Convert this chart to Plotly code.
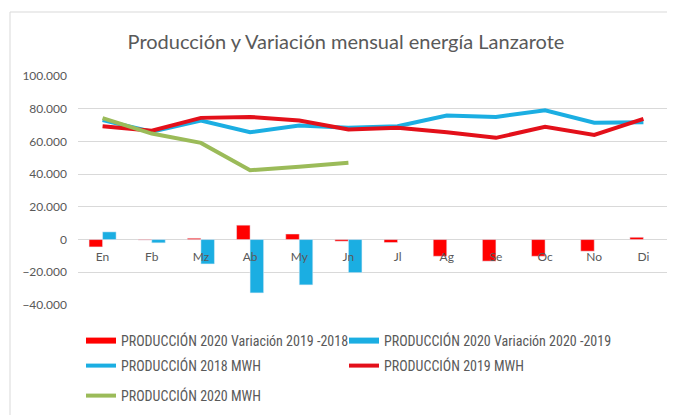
import plotly.graph_objects as go

months = ["En", "Fb", "Mz", "Ab", "My", "Jn", "Jl", "Ag", "Se", "Oc", "No", "Di"]

var_2019_2018 = [-4500, -300, 800, 8800, 3400, -1000, -1800, -10200, -13200, -10200, -7100, 1400]
var_2020_2019 = [4700, -2000, -14900, -32600, -27700, -20200, None, None, None, None, None, None]

prod_2018 = [73000, 66000, 72800, 65600, 69700, 68300, 69300, 75800, 75000, 79100, 71400, 71800]
prod_2019 = [69300, 66500, 74400, 75000, 72800, 67300, 68300, 65600, 62200, 68900, 64000, 73800]
prod_2020 = [74300, 64800, 59100, 42400, 44500, 46900]

names = [
    "PRODUCCIÓN 2020 Variación 2019 -2018",
    "PRODUCCIÓN 2020 Variación 2020 -2019",
    "PRODUCCIÓN 2018 MWH",
    "PRODUCCIÓN 2019 MWH",
    "PRODUCCIÓN 2020 MWH",
]

RED_BAR = "#FF0000"
BLUE = "#1BAEE2"
RED_LINE = "#E3101A"
GREEN = "#9BBB59"
GREY = "#595959"
FONT = "Lato"
LEGFONT = "Roboto Condensed, Roboto"

fig = go.Figure()
fig.add_trace(go.Bar(x=months, y=var_2019_2018, name=names[0], marker_color=RED_BAR, showlegend=False))
fig.add_trace(go.Bar(x=months, y=var_2020_2019, name=names[1], marker_color=BLUE, showlegend=False))
fig.add_trace(go.Scatter(x=months, y=prod_2018, name=names[2], mode="lines",
                         line=dict(color=BLUE, width=4), legend="legend3"))
fig.add_trace(go.Scatter(x=months, y=prod_2019, name=names[3], mode="lines",
                         line=dict(color=RED_LINE, width=4), legend="legend4"))
fig.add_trace(go.Scatter(x=months[:len(prod_2020)], y=prod_2020, name=names[4], mode="lines",
                         line=dict(color=GREEN, width=4), legend="legend5"))
# legend keys for the bar series (wide flat rectangles as in the original)
fig.add_trace(go.Scatter(x=[None], y=[None], name=names[0], mode="lines",
                         line=dict(color=RED_BAR, width=6), legend="legend", hoverinfo="skip"))
fig.add_trace(go.Scatter(x=[None], y=[None], name=names[1], mode="lines",
                         line=dict(color=BLUE, width=6), legend="legend2", hoverinfo="skip"))

# page body has an 8px margin, so the figure is drawn 8px in from the window corner
W, H = 667, 407
L, R, T, B = 70, 7, 68, 110
pw, ph = W - L - R, H - T - B

def px_x(v):
    return (v - L) / pw

def px_y(v):
    return (H - B - v) / ph

ymin, ymax = -40000, 100000
legfont = dict(family=LEGFONT, size=14, color=GREY)

def leg(xp, yp):
    return dict(orientation="h", x=px_x(xp), y=px_y(yp), xanchor="left", yanchor="middle",
                font=legfont, itemwidth=30, bgcolor="rgba(0,0,0,0)")

fig.update_layout(
    width=W, height=H,
    showlegend=True,
    margin=dict(l=L, r=R, t=T, b=B, autoexpand=False),
    paper_bgcolor="white", plot_bgcolor="white",
    separators=",.",
    barmode="group", bargap=0.45, bargroupgap=0,
    title=dict(text="Producción y Variación mensual energía Lanzarote",
               x=338 / W, xanchor="center", y=1 - 34 / H, yanchor="middle",
               font=dict(family=FONT, size=20, color=GREY)),
    font=dict(family=FONT, color=GREY),
    yaxis=dict(range=[ymin, ymax], dtick=20000, tickformat=",d",
               showgrid=True, gridcolor="#D9D9D9", gridwidth=1,
               zeroline=True, zerolinecolor="#D9D9D9", zerolinewidth=1,
               ticklabelstandoff=10,
               tickfont=dict(family=FONT, size=12, color=GREY), ticks="", fixedrange=True),
    xaxis=dict(anchor="free", position=(0 - ymin) / (ymax - ymin),
               showgrid=False, showline=False, zeroline=False, ticks="",
               ticklabelstandoff=8,
               tickfont=dict(family=FONT, size=12, color=GREY)),
    legend=leg(73, 333),
    legend2=leg(336, 333),
    legend3=leg(73, 358),
    legend4=leg(336, 358),
    legend5=leg(73, 388),
    shapes=[dict(type="rect", xref="paper", yref="paper",
                 x0=px_x(2), x1=px_x(690), y0=px_y(430), y1=px_y(4),
                 line=dict(color="#D9D9D9", width=1), layer="below")],
)

fig.write_html("out.html")
